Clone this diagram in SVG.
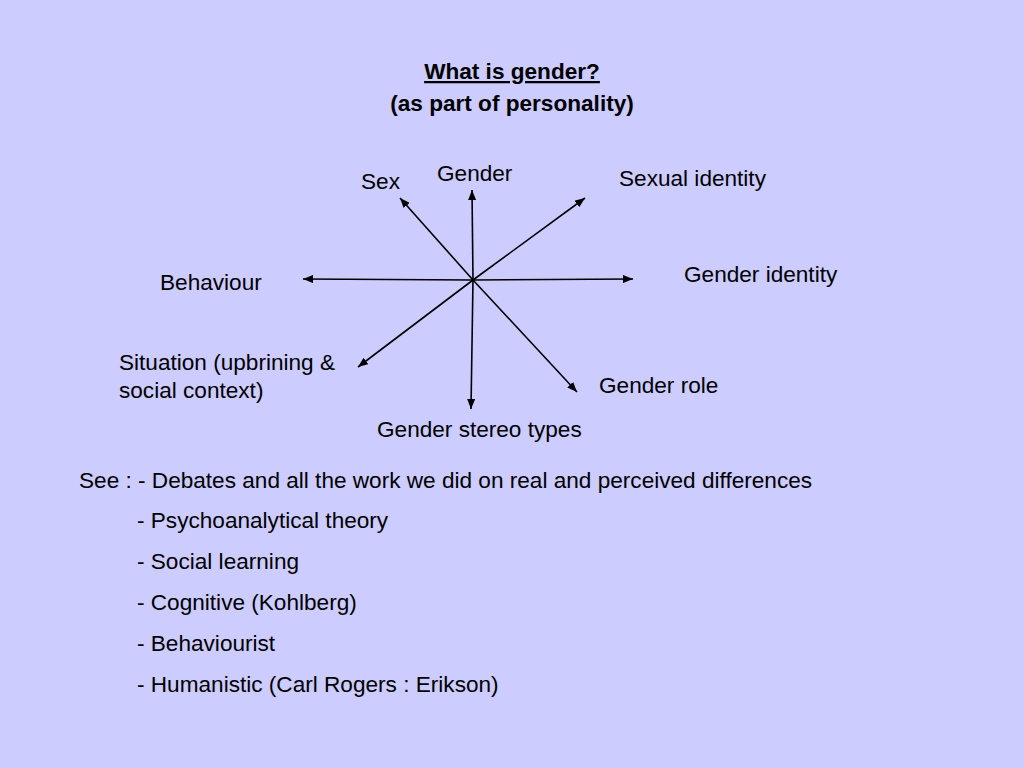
<svg xmlns="http://www.w3.org/2000/svg" width="1024" height="768" viewBox="0 0 1024 768">
<style>
text{font-family:"Liberation Sans",Arial,sans-serif;font-size:22.6px;fill:#000}
.t{font-weight:bold;text-anchor:middle}
.c line{stroke:#000;stroke-width:1.6;marker-end:url(#ah)}
</style>
<defs>
<marker id="ah" viewBox="0 0 10 8" refX="10" refY="4" markerWidth="10" markerHeight="8" markerUnits="userSpaceOnUse" orient="auto">
<path d="M0,0 L10,4 L0,8 Z" fill="#000"/>
</marker>
</defs>
<rect width="1024" height="768" fill="#CCCCFF"/>
<g id="title">
<text class="t" x="512" y="79" text-decoration="underline">What is gender?</text>
<text class="t" x="512" y="111">(as part of personality)</text>
</g>
<g class="c" id="connectors">
<line x1="473" y1="280" x2="472" y2="190"/>
<line x1="473" y1="280" x2="471" y2="409"/>
<line x1="473" y1="280" x2="303" y2="279"/>
<line x1="473" y1="280" x2="633" y2="279"/>
<line x1="473" y1="280" x2="400" y2="198"/>
<line x1="473" y1="280" x2="585" y2="198"/>
<line x1="473" y1="280" x2="358" y2="367"/>
<line x1="473" y1="280" x2="577" y2="392"/>
</g>
<g id="n-sex"><text x="361" y="189">Sex</text></g>
<g id="n-gender"><text x="437" y="181">Gender</text></g>
<g id="n-sexual"><text x="619" y="186">Sexual identity</text></g>
<g id="n-gid"><text x="684" y="282">Gender identity</text></g>
<g id="n-beh"><text x="160" y="290">Behaviour</text></g>
<g id="n-sit"><text x="119" y="370">Situation (upbrining &amp;</text><text x="119" y="398">social context)</text></g>
<g id="n-role"><text x="599" y="393">Gender role</text></g>
<g id="n-stereo"><text x="377" y="437">Gender stereo types</text></g>
<g id="see">
<text x="79" y="488">See : - Debates and all the work we did on real and perceived differences</text>
<text x="137" y="528">- Psychoanalytical theory</text>
<text x="137" y="569">- Social learning</text>
<text x="137" y="610">- Cognitive (Kohlberg)</text>
<text x="137" y="651">- Behaviourist</text>
<text x="137" y="692">- Humanistic (Carl Rogers : Erikson)</text>
</g>
</svg>
